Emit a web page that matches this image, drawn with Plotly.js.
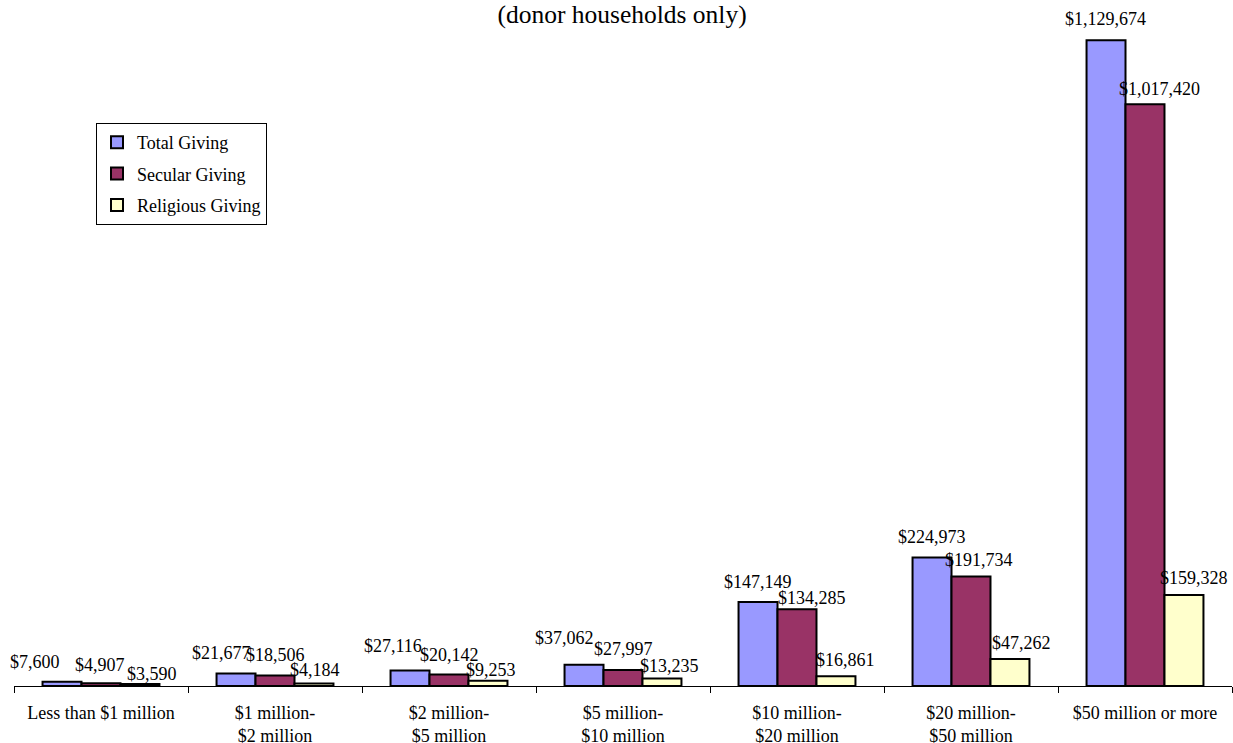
<!DOCTYPE html>
<html>
<head>
<meta charset="utf-8">
<script src="https://cdn.plot.ly/plotly-3.0.1.min.js"></script>
<style>html,body{margin:0;padding:0;background:#fff;}#chart{width:1233px;height:743px;}</style>
</head>
<body>
<div id="chart"></div>
<script>
// ---- data ----
const categories = [
  "Less than $1 million",
  "$1 million-<br>$2 million",
  "$2 million-<br>$5 million",
  "$5 million-<br>$10 million",
  "$10 million-<br>$20 million",
  "$20 million-<br>$50 million",
  "$50 million or more"
];
const seriesNames = ["Total Giving", "Secular Giving", "Religious Giving"];
const totalGiving     = [7600, 21677, 27116, 37062, 147149, 224973, 1129674];
const secularGiving   = [4907, 18506, 20142, 27997, 134285, 191734, 1017420];
const religiousGiving = [3590, 4184, 9253, 13235, 16861, 47262, 159328];
const titleText = "(donor households only)";

// ---- styles / label placement (pixels) ----
const colors = ["#9999FF", "#993366", "#FFFFCC"];
const barOffsetPx = [-39, 0, 39];
const labelDx = [
  [-27, -14.5, -17.5, -20, 0, 0, -1],
  [-1.5, 0, 0, 0, 15, 8, 14],
  [11.5, 1, 3, 7, 9, 11, 10]
];
const labelDy = [
  [13, 13.6, 17.5, 20, 13, 13, 14],
  [11, 13, 12.5, 14, 4, 9, 8],
  [3, 6.6, 4, 5, 9, 9, 10]
];

const series = [totalGiving, secularGiving, religiousGiving];
const fmt = v => "$" + v.toLocaleString("en-US");
const FONT = "Liberation Serif, Times New Roman, serif";

const traces = series.map((vals, s) => ({
  type: "bar",
  name: seriesNames[s],
  x: categories,
  y: vals,
  marker: { color: colors[s], line: { color: "#000", width: 2 } },
  legendgroup: "g" + s,
  hoverinfo: "x+y"
}));

const annotations = [];
series.forEach((vals, s) => {
  vals.forEach((v, i) => {
    annotations.push({
      x: categories[i], y: v, xref: "x", yref: "y",
      text: fmt(v), showarrow: false,
      xanchor: "center", yanchor: "bottom",
      xshift: barOffsetPx[s] + labelDx[s][i],
      yshift: labelDy[s][i] - 5,
      font: { family: FONT, size: 18, color: "#000" }
    });
  });
});

const layout = {
  width: 1233, height: 743,
  margin: { l: 14, r: 1, t: 0, b: 57, pad: 0, autoexpand: false },
  paper_bgcolor: "#fff", plot_bgcolor: "#fff",
  font: { family: FONT, size: 18, color: "#000" },
  title: {
    text: titleText,
    font: { family: FONT, size: 25.5, color: "#000" },
    x: 0.5045, xanchor: "center",
    y: 1 - 14 / 743, yanchor: "middle", yref: "container"
  },
  barmode: "group",
  bargap: 0.328,
  bargroupgap: 0,
  xaxis: {
    type: "category",
    range: [-0.5, categories.length - 0.5],
    automargin: false,
    showline: true, linecolor: "#000", linewidth: 1,
    ticks: "outside", ticklen: 6, tickcolor: "#000", tickwidth: 1,
    tickson: "boundaries",
    showgrid: false, zeroline: false,
    ticklabelstandoff: 10,
    tickfont: { family: FONT, size: 18, color: "#000" },
    fixedrange: true
  },
  yaxis: {
    range: [0, 1200000],
    automargin: false,
    visible: false, showgrid: false, zeroline: false,
    fixedrange: true
  },
  showlegend: true,
  legend: {
    x: (96 - 14) / 1218, xanchor: "left",
    y: (686 - 123) / 686, yanchor: "top",
    bgcolor: "#fff", bordercolor: "#000", borderwidth: 1,
    font: { family: FONT, size: 18, color: "#000" },
    traceorder: "grouped",
    tracegroupgap: 5,
    itemclick: false, itemdoubleclick: false
  },
  annotations: annotations
};

Plotly.newPlot("chart", traces, layout, { displayModeBar: false, staticPlot: true });
</script>
</body>
</html>
